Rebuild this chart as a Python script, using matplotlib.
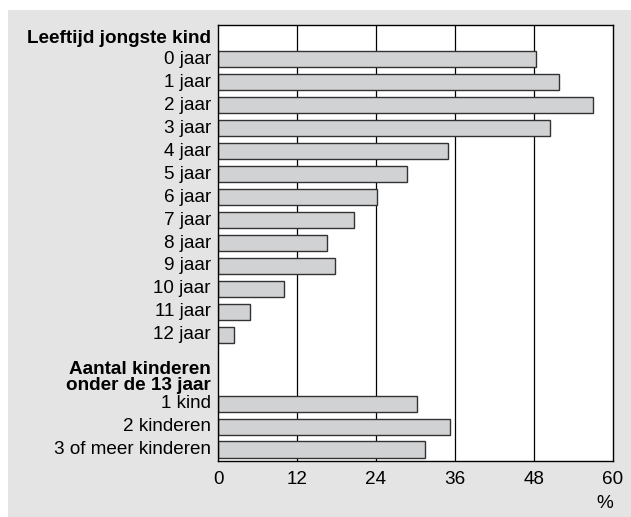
import numpy as np
import matplotlib.pyplot as plt
from matplotlib.patches import Rectangle

plt.rcParams['font.family'] = ['Liberation Sans', 'DejaVu Sans']

# data
leeftijd_labels = ["0 jaar", "1 jaar", "2 jaar", "3 jaar", "4 jaar", "5 jaar", "6 jaar",
                   "7 jaar", "8 jaar", "9 jaar", "10 jaar", "11 jaar", "12 jaar"]
leeftijd_values = [48.3, 51.8, 56.9, 50.5, 34.9, 28.7, 24.2, 20.7, 16.6, 17.8, 10.0, 4.9, 2.4]
aantal_labels = ["1 kind", "2 kinderen", "3 of meer kinderen"]
aantal_values = [30.3, 35.2, 31.4]
header1 = "Leeftijd jongste kind"
header2 = "Aantal kinderen\nonder de 13 jaar"
xticks = [0, 12, 24, 36, 48, 60]

fs = 13.6

fig = plt.figure(figsize=(6.31, 5.17), dpi=100)
fig.patch.set_facecolor('#e3e4e3')
# white strip at the top and left edge
fig.patches.append(Rectangle((0, 1 - 10 / 517), 1, 10 / 517, transform=fig.transFigure,
                             facecolor='white', edgecolor='none', zorder=0))
fig.patches.append(Rectangle((0, 0), 8 / 631, 1, transform=fig.transFigure,
                             facecolor='white', edgecolor='none', zorder=0))

ax = fig.add_axes([218 / 631, 1 - 461 / 517, 395 / 631, 436 / 517])
ax.set_facecolor('white')

# row positions: 0 header, 1-13 ages, 14-15 header, 16-18 counts
pos1 = np.arange(1, 14)
pos2 = np.arange(16, 19)

for x in xticks[1:-1]:
    ax.axvline(x, color='black', lw=0.9, zorder=1)

ax.barh(pos1, leeftijd_values, height=0.7, color='#d1d2d4', edgecolor='#333333', lw=1.0, zorder=2)
ax.barh(pos2, aantal_values, height=0.7, color='#d1d2d4', edgecolor='#333333', lw=1.0, zorder=2)

ax.set_xlim(0, 60)
ax.set_ylim(18.5, -0.5)
ax.set_xticks(xticks)
ax.set_xticklabels([str(t) for t in xticks], fontsize=fs)
ax.tick_params(axis='x', length=0, pad=7)
ax.set_yticks([])
for s in ax.spines.values():
    s.set_color('black')
    s.set_linewidth(1.0)

lab_x = -0.018
tr = ax.get_yaxis_transform()
ax.text(lab_x, 0.1, header1, transform=tr, ha='right', va='center',
        fontsize=fs, fontweight='bold')
for p, l in zip(pos1, leeftijd_labels):
    ax.text(lab_x, p, l, transform=tr, ha='right', va='center', fontsize=fs)
ax.text(lab_x, 14.85, header2, transform=tr, ha='right', va='center',
        fontsize=fs, fontweight='bold', linespacing=0.95)
for p, l in zip(pos2, aantal_labels):
    ax.text(lab_x, p, l, transform=tr, ha='right', va='center', fontsize=fs)

fig.text(613 / 631, 1 - 503 / 517, "%", ha='right', va='center', fontsize=fs)

fig.savefig('out.png', dpi=100, facecolor=fig.get_facecolor())
